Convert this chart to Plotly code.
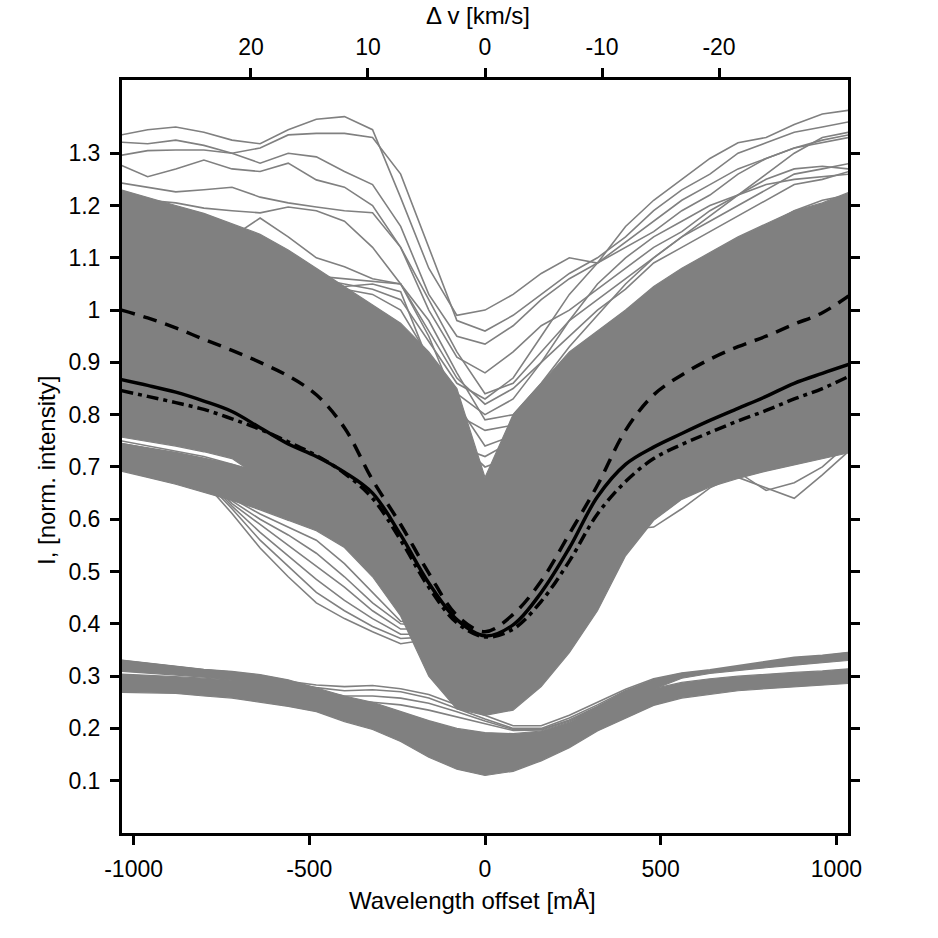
import plotly.graph_objects as go

# ---------------- data ----------------
WAVE = [-1035, -960, -880, -800, -720, -640, -560, -480, -400, -320, -240, -160, -80, 0,
        80, 160, 240, 320, 400, 480, 560, 640, 720, 800, 880, 960, 1035]   # mÅ
MA_PER_10KMS = 333.0   # wavelength offset corresponding to 10 km/s

# envelopes of densely packed gray profiles
MAIN_UPPER = [1.23, 1.215, 1.20, 1.185, 1.165, 1.145, 1.115, 1.08, 1.045, 1.01, 0.975, 0.92, 0.85, 0.68,
              0.80, 0.86, 0.92, 0.96, 1.00, 1.045, 1.08, 1.11, 1.14, 1.165, 1.19, 1.205, 1.225]
MAIN_LOWER = [0.757, 0.749, 0.740, 0.729, 0.716, 0.68, 0.598, 0.578, 0.546, 0.49, 0.415, 0.30, 0.237, 0.225,
              0.235, 0.28, 0.345, 0.425, 0.53, 0.598, 0.638, 0.662, 0.678, 0.692, 0.704, 0.716, 0.727]
LOWBAND_UPPER = [0.745, 0.737, 0.728, 0.717, 0.705, 0.69, 0.68]
LOWBAND_LOWER = [0.692, 0.680, 0.667, 0.652, 0.636, 0.618, 0.598]

UMBRA1_UPPER = [0.331, 0.325, 0.318, 0.313, 0.309, 0.303, 0.293, 0.278, 0.262, 0.25, 0.232, 0.215, 0.20, 0.192,
                0.19, 0.195, 0.212, 0.24, 0.27, 0.292, 0.304, 0.309, 0.318, 0.327, 0.335, 0.339, 0.345]
UMBRA1_LOWER = [0.309, 0.306, 0.302, 0.298, 0.293, 0.287, 0.28, 0.265, 0.25, 0.235, 0.215, 0.195, 0.175, 0.16,
                0.155, 0.165, 0.185, 0.215, 0.248, 0.275, 0.296, 0.305, 0.31, 0.316, 0.321, 0.326, 0.33]
UMBRA2_UPPER = [0.304, 0.302, 0.299, 0.296, 0.292, 0.288, 0.282, 0.272, 0.26, 0.245, 0.228, 0.205, 0.185, 0.175,
                0.17, 0.178, 0.198, 0.228, 0.255, 0.276, 0.288, 0.295, 0.30, 0.304, 0.307, 0.31, 0.314]
UMBRA2_LOWER = [0.269, 0.268, 0.267, 0.262, 0.258, 0.25, 0.242, 0.232, 0.213, 0.198, 0.175, 0.145, 0.122, 0.11,
                0.118, 0.138, 0.163, 0.195, 0.219, 0.244, 0.258, 0.265, 0.272, 0.276, 0.279, 0.283, 0.286]

# individual gray profiles
PROFILES = {
    "A": [1.335, 1.345, 1.35, 1.34, 1.325, 1.318, 1.345, 1.365, 1.37, 1.345, 1.215, 1.08, 0.99, 1.0, 1.03, 1.07, 1.10, 1.09, 1.16, 1.21, 1.25, 1.29, 1.32, 1.33, 1.355, 1.375, 1.382],
    "B": [1.321, 1.318, 1.325, 1.315, 1.30, 1.31, 1.335, 1.338, 1.338, 1.33, 1.26, 1.12, 0.98, 0.96, 0.99, 1.03, 1.07, 1.10, 1.14, 1.19, 1.23, 1.26, 1.30, 1.32, 1.34, 1.35, 1.36],
    "C": [1.296, 1.305, 1.306, 1.306, 1.30, 1.281, 1.30, 1.293, 1.265, 1.24, 1.16, 1.03, 0.95, 0.935, 0.97, 1.02, 1.06, 1.09, 1.12, 1.15, 1.19, 1.22, 1.26, 1.29, 1.31, 1.32, 1.33],
    "D": [1.277, 1.255, 1.27, 1.287, 1.27, 1.265, 1.281, 1.249, 1.235, 1.20, 1.12, 1.0, 0.91, 0.88, 0.92, 0.97, 1.0, 1.04, 1.08, 1.12, 1.15, 1.19, 1.22, 1.25, 1.27, 1.275, 1.27],
    "E": [1.243, 1.235, 1.226, 1.23, 1.235, 1.216, 1.205, 1.197, 1.19, 1.186, 1.12, 1.02, 0.92, 0.84, 0.86, 0.92, 0.98, 1.02, 1.06, 1.10, 1.14, 1.17, 1.20, 1.23, 1.26, 1.27, 1.28],
    "F": [1.22, 1.21, 1.205, 1.195, 1.19, 1.186, 1.197, 1.19, 1.17, 1.12, 1.05, 0.96, 0.87, 0.82, 0.85, 0.90, 0.95, 1.0, 1.04, 1.09, 1.12, 1.15, 1.18, 1.21, 1.24, 1.25, 1.265],
    "G": [1.21, 1.19, 1.17, 1.155, 1.14, 1.176, 1.14, 1.10, 1.083, 1.06, 1.05, 0.98, 0.88, 0.79, 0.80, 0.86, 0.93, 0.99, 1.05, 1.10, 1.14, 1.18, 1.22, 1.26, 1.30, 1.33, 1.34],
    "H": [1.18, 1.16, 1.14, 1.12, 1.10, 1.09, 1.08, 1.065, 1.06, 1.055, 1.05, 0.95, 0.82, 0.74, 0.76, 0.82, 0.88, 0.93, 0.99, 1.03, 1.07, 1.10, 1.13, 1.16, 1.19, 1.21, 1.22],
    "I": [1.15, 1.14, 1.12, 1.10, 1.09, 1.07, 1.06, 1.05, 1.045, 1.05, 1.035, 0.90, 0.75, 0.70, 0.72, 0.78, 0.85, 0.91, 0.96, 1.0, 1.04, 1.07, 1.10, 1.13, 1.16, 1.18, 1.20],
    "J": [1.12, 1.10, 1.09, 1.07, 1.05, 1.03, 1.01, 0.99, 0.97, 0.95, 0.92, 0.86, 0.80, 0.77, 0.78, 0.83, 0.89, 0.94, 0.98, 1.02, 1.05, 1.08, 1.11, 1.13, 1.15, 1.17, 1.18],
    "K": [1.05, 1.04, 1.03, 1.01, 0.99, 0.97, 0.95, 0.93, 0.91, 0.89, 0.86, 0.80, 0.74, 0.72, 0.75, 0.81, 0.87, 0.92, 0.96, 1.0, 1.03, 1.06, 1.09, 1.11, 1.13, 1.15, 1.16],
    "M": [1.10, 1.08, 1.06, 1.04, 1.02, 1.0, 0.98, 0.96, 0.93, 0.90, 0.85, 0.76, 0.68, 0.66, 0.70, 0.77, 0.84, 0.90, 0.95, 0.99, 1.03, 1.06, 1.09, 1.12, 1.14, 1.16, 1.17],
    "N": [1.0, 0.99, 0.98, 0.96, 0.94, 0.92, 0.90, 0.88, 0.86, 0.83, 0.78, 0.70, 0.64, 0.62, 0.66, 0.73, 0.80, 0.86, 0.91, 0.95, 0.99, 1.02, 1.05, 1.07, 1.09, 1.11, 1.12],
    "P": [1.20, 1.18, 1.16, 1.14, 1.12, 1.10, 1.08, 1.06, 1.05, 1.04, 1.02, 0.94, 0.86, 0.83, 0.87, 0.95, 1.03, 1.09, 1.13, 1.17, 1.21, 1.24, 1.27, 1.29, 1.31, 1.325, 1.335],
    "Q": [1.19, 1.17, 1.15, 1.13, 1.11, 1.09, 1.07, 1.05, 1.04, 1.03, 1.0, 0.91, 0.84, 0.80, 0.83, 0.90, 0.98, 1.05, 1.10, 1.14, 1.17, 1.20, 1.22, 1.24, 1.25, 1.255, 1.26],
    "L1": [0.71, 0.70, 0.69, 0.672, 0.611, 0.545, 0.49, 0.44, 0.41, 0.385, 0.362, 0.37, 0.40, 0.45, 0.53, 0.60, 0.64, 0.66, 0.675, 0.685, 0.69, 0.70, 0.71, 0.715, 0.72, 0.725, 0.73],
    "L2": [0.715, 0.705, 0.695, 0.676, 0.62, 0.56, 0.51, 0.46, 0.425, 0.395, 0.372, 0.375, 0.41, 0.46, 0.54, 0.61, 0.645, 0.665, 0.68, 0.69, 0.695, 0.705, 0.715, 0.72, 0.725, 0.73, 0.735],
    "L3": [0.72, 0.71, 0.70, 0.68, 0.625, 0.575, 0.53, 0.485, 0.445, 0.41, 0.38, 0.38, 0.415, 0.47, 0.55, 0.62, 0.65, 0.67, 0.685, 0.695, 0.70, 0.71, 0.72, 0.725, 0.73, 0.735, 0.74],
    "L4": [0.725, 0.715, 0.705, 0.684, 0.63, 0.59, 0.55, 0.51, 0.47, 0.425, 0.39, 0.39, 0.425, 0.48, 0.56, 0.63, 0.66, 0.675, 0.69, 0.70, 0.705, 0.715, 0.725, 0.73, 0.735, 0.74, 0.745],
    "L5": [0.73, 0.72, 0.71, 0.688, 0.635, 0.60, 0.57, 0.535, 0.49, 0.44, 0.40, 0.395, 0.435, 0.49, 0.57, 0.635, 0.665, 0.68, 0.695, 0.705, 0.71, 0.72, 0.73, 0.735, 0.74, 0.745, 0.75],
    "L6": [0.735, 0.725, 0.715, 0.692, 0.64, 0.61, 0.585, 0.56, 0.515, 0.46, 0.405, 0.40, 0.44, 0.50, 0.575, 0.64, 0.67, 0.685, 0.70, 0.71, 0.715, 0.725, 0.735, 0.74, 0.745, 0.75, 0.755],
    "RD1": [0.74, 0.73, 0.72, 0.71, 0.695, 0.68, 0.66, 0.64, 0.61, 0.56, 0.48, 0.38, 0.31, 0.29, 0.32, 0.38, 0.45, 0.52, 0.57, 0.60, 0.64, 0.67, 0.68, 0.66, 0.64, 0.685, 0.73],
    "RD2": [0.75, 0.74, 0.73, 0.72, 0.705, 0.69, 0.67, 0.65, 0.62, 0.57, 0.49, 0.39, 0.32, 0.30, 0.33, 0.40, 0.47, 0.54, 0.59, 0.63, 0.665, 0.69, 0.69, 0.655, 0.67, 0.70, 0.745],
    "RD3": [0.745, 0.735, 0.725, 0.715, 0.70, 0.685, 0.665, 0.645, 0.615, 0.565, 0.485, 0.385, 0.315, 0.295, 0.325, 0.39, 0.46, 0.53, 0.58, 0.585, 0.62, 0.66, 0.685, 0.70, 0.71, 0.72, 0.735],
    "U1": [0.33, 0.324, 0.317, 0.312, 0.308, 0.30, 0.29, 0.283, 0.28, 0.282, 0.276, 0.265, 0.245, 0.225, 0.205, 0.205, 0.225, 0.25, 0.275, 0.295, 0.306, 0.312, 0.32, 0.328, 0.336, 0.34, 0.345],
    "U2": [0.328, 0.322, 0.315, 0.31, 0.305, 0.297, 0.287, 0.278, 0.272, 0.274, 0.27, 0.258, 0.238, 0.218, 0.2, 0.2, 0.22, 0.245, 0.272, 0.293, 0.305, 0.31, 0.318, 0.326, 0.334, 0.338, 0.343],
    "U3": [0.326, 0.32, 0.313, 0.308, 0.303, 0.295, 0.284, 0.272, 0.262, 0.262, 0.258, 0.248, 0.232, 0.214, 0.198, 0.198, 0.216, 0.242, 0.27, 0.291, 0.303, 0.308, 0.316, 0.324, 0.332, 0.336, 0.341],
    "U4": [0.323, 0.318, 0.311, 0.306, 0.30, 0.292, 0.28, 0.266, 0.254, 0.25, 0.245, 0.235, 0.222, 0.208, 0.196, 0.197, 0.214, 0.24, 0.268, 0.29, 0.302, 0.307, 0.315, 0.323, 0.331, 0.335, 0.34],
}

# black reference profiles
SOLID = [0.867, 0.856, 0.843, 0.826, 0.806, 0.775, 0.744, 0.720, 0.690, 0.650, 0.570, 0.478, 0.408, 0.377,
         0.398, 0.46, 0.545, 0.643, 0.705, 0.738, 0.764, 0.789, 0.812, 0.835, 0.860, 0.879, 0.896]
DASHED = [1.000, 0.985, 0.966, 0.944, 0.923, 0.90, 0.874, 0.838, 0.775, 0.675, 0.590, 0.497, 0.416, 0.385,
          0.418, 0.482, 0.572, 0.665, 0.770, 0.838, 0.876, 0.906, 0.930, 0.950, 0.973, 0.995, 1.027]
DASHDOT = [0.846, 0.835, 0.823, 0.810, 0.792, 0.772, 0.748, 0.722, 0.688, 0.640, 0.560, 0.47, 0.402, 0.375,
           0.39, 0.443, 0.52, 0.61, 0.672, 0.716, 0.743, 0.766, 0.788, 0.808, 0.830, 0.850, 0.873]

Y_TICKS = [0.1, 0.2, 0.3, 0.4, 0.5, 0.6, 0.7, 0.8, 0.9, 1.0, 1.1, 1.2, 1.3]
Y_TICKTEXT = ["0.1", "0.2", "0.3", "0.4", "0.5", "0.6", "0.7", "0.8", "0.9", "1", "1.1", "1.2", "1.3"]
X_TICKS = [-1000, -500, 0, 500, 1000]
X_TICKTEXT = ["-1000", "-500", "0", "500", "1000"]
V_TICKS = [20, 10, 0, -10, -20]
V_TICKTEXT = ["20", "10", "0", "-10", "-20"]

# ---------------- figure ----------------
GRAY = "#808080"
FONT = "Liberation Sans, Arial, Helvetica, sans-serif"
X_RANGE = [-1033, 1033]
Y_RANGE = [0, 1.44]

fig = go.Figure()


def band(xs, upper, lower):
    fig.add_trace(go.Scatter(x=list(xs) + list(xs)[::-1], y=list(upper) + list(lower)[::-1],
                             mode="lines", fill="toself", fillcolor=GRAY,
                             line=dict(color=GRAY, width=1.2), hoverinfo="skip", showlegend=False))


band(WAVE, MAIN_UPPER, MAIN_LOWER)
band(WAVE[:len(LOWBAND_UPPER)], LOWBAND_UPPER, LOWBAND_LOWER)
band(WAVE, UMBRA1_UPPER, UMBRA1_LOWER)
band(WAVE, UMBRA2_UPPER, UMBRA2_LOWER)

for name, vals in PROFILES.items():
    fig.add_trace(go.Scatter(x=WAVE, y=vals, mode="lines", line=dict(color=GRAY, width=1.6),
                             hoverinfo="skip", showlegend=False))

fig.add_trace(go.Scatter(x=WAVE, y=DASHED, mode="lines", line_shape="spline",
                         line=dict(color="black", width=3.5, dash="14px,9px"), showlegend=False))
fig.add_trace(go.Scatter(x=WAVE, y=DASHDOT, mode="lines", line_shape="spline",
                         line=dict(color="black", width=3.5, dash="12px,5px,4px,5px"), showlegend=False))
fig.add_trace(go.Scatter(x=WAVE, y=SOLID, mode="lines", line_shape="spline",
                         line=dict(color="black", width=3.5), showlegend=False))

# invisible trace carrying the velocity axis
vel = [-w * 10.0 / MA_PER_10KMS for w in WAVE]
fig.add_trace(go.Scatter(x=vel, y=SOLID, xaxis="x2", mode="lines", line=dict(width=0),
                         opacity=0, hoverinfo="skip", showlegend=False))

axis_common = dict(showgrid=False, zeroline=False, showline=True, linecolor="black", linewidth=3,
                   ticks="outside", ticklen=9, tickwidth=3, tickcolor="black",
                   tickfont=dict(family=FONT, size=23, color="black"))

fig.update_layout(
    width=938, height=938,
    margin=dict(l=122, r=90, t=80, b=105),
    paper_bgcolor="white", plot_bgcolor="white",
    showlegend=False,
    xaxis=dict(range=X_RANGE, tickvals=X_TICKS, ticktext=X_TICKTEXT, mirror=True,
               ticklabelstandoff=4, **axis_common),
    xaxis2=dict(range=[-X_RANGE[0] * 10.0 / MA_PER_10KMS, -X_RANGE[1] * 10.0 / MA_PER_10KMS],
                overlaying="x", side="top", anchor="y", tickvals=V_TICKS, ticktext=V_TICKTEXT,
                ticklabelstandoff=4, **axis_common),
    yaxis=dict(range=Y_RANGE, tickvals=Y_TICKS, ticktext=Y_TICKTEXT, mirror="ticks",
               ticklabelstandoff=5, **axis_common),
    annotations=[
        dict(text="Wavelength offset [mÅ]", xref="paper", yref="paper", x=0.4828, y=-0.089,
             showarrow=False, font=dict(family=FONT, size=24, color="black"),
             xanchor="center", yanchor="middle"),
        dict(text="I, [norm. intensity]", xref="paper", yref="paper", x=-0.1047, y=0.482,
             showarrow=False, textangle=-90, font=dict(family=FONT, size=24, color="black"),
             xanchor="center", yanchor="middle"),
        dict(text="Δ v [km/s]", xref="paper", yref="paper", x=0.4897, y=1.0863,
             showarrow=False, font=dict(family=FONT, size=24, color="black"),
             xanchor="center", yanchor="middle"),
    ],
)

fig.write_html("out.html")
